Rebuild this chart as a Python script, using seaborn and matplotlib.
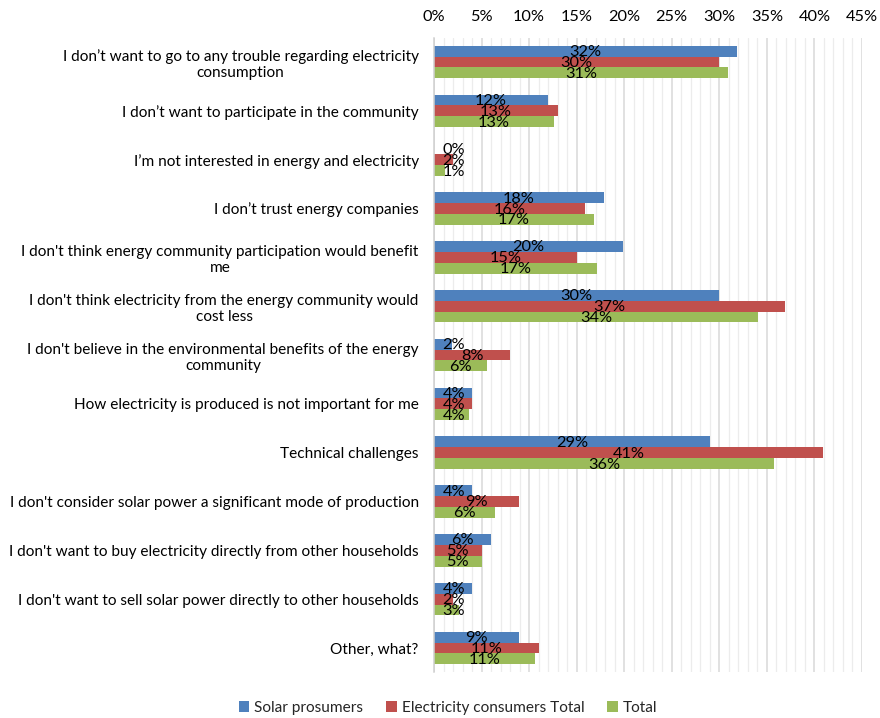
import numpy as np
import pandas as pd
import matplotlib
matplotlib.use("Agg")
import matplotlib.pyplot as plt
from matplotlib.ticker import MultipleLocator, PercentFormatter
from matplotlib.patches import Patch
import seaborn as sns

categories = [
    "I don\u2019t want to go to any trouble regarding electricity\nconsumption",
    "I don\u2019t want to participate in the community",
    "I\u2019m not interested in energy and electricity",
    "I don\u2019t trust energy companies",
    "I don't think energy community participation would benefit\nme",
    "I don't think electricity from the energy community would\ncost less",
    "I don't believe in the environmental benefits of the energy\ncommunity",
    "How electricity is produced is not important for me",
    "Technical challenges",
    "I don't consider solar power a significant mode of production",
    "I don't want to buy electricity directly from other households",
    "I don't want to sell solar power directly to other households",
    "Other, what?",
]
series_names = ["Solar prosumers", "Electricity consumers Total", "Total"]
solar_prosumers = [31.9, 12.0, 0.0, 17.9, 19.9, 30.0, 1.9, 4.0, 29.0, 4.0, 6.0, 4.0, 8.9]
consumers_total = [30.0, 13.0, 2.0, 15.9, 15.0, 36.9, 8.0, 4.0, 40.9, 8.9, 5.0, 2.0, 11.0]
total = [30.9, 12.6, 1.2, 16.8, 17.1, 34.1, 5.6, 3.7, 35.8, 6.4, 5.0, 2.6, 10.6]
colors = ["#4F81BD", "#C0504D", "#9BBB59"]

df = pd.DataFrame({
    "category": categories * 3,
    "series": np.repeat(series_names, len(categories)),
    "value": solar_prosumers + consumers_total + total,
})

sns.set_theme(style="white")
plt.rcParams["font.family"] = ["Lato", "DejaVu Sans"]
FS = 11.1

fig = plt.figure(figsize=(8.8, 7.18), dpi=100)
ax = fig.add_axes([0.4932, 0.0635, 0.9795 - 0.4932, 0.9476 - 0.0635])

sns.barplot(data=df, y="category", x="value", hue="series", order=categories,
            hue_order=series_names, palette=colors, orient="h", width=0.667,
            saturation=1, edgecolor="none", legend=False, ax=ax)

ax.set_xlim(0, 45)
ax.xaxis.set_major_locator(MultipleLocator(5))
ax.xaxis.set_minor_locator(MultipleLocator(1))
ax.xaxis.set_major_formatter(PercentFormatter(decimals=0))
ax.xaxis.tick_top()
ax.grid(axis="x", which="minor", color="#ececec", linewidth=0.9)
ax.grid(axis="x", which="major", color="#d9d9d9", linewidth=1.1)
ax.set_axisbelow(True)
ax.tick_params(axis="x", which="both", length=0, labelsize=11.8, pad=10, colors="black")
ax.tick_params(axis="y", length=0, labelsize=FS, pad=11, colors="black")
for lbl in ax.get_yticklabels():
    lbl.set_multialignment("center")
ax.set_xlabel("")
ax.set_ylabel("")
for side in ["top", "right", "bottom"]:
    ax.spines[side].set_visible(False)
ax.spines["left"].set_color("#d0d0d0")
ax.spines["left"].set_linewidth(1.1)

# value labels centred on each bar, nudged right for very short bars
for container in ax.containers:
    for bar in container:
        w = bar.get_width()
        yc = bar.get_y() + bar.get_height() / 2
        ax.text(max(w / 2, 2.1), yc + 0.02, f"{w:.0f}%", ha="center", va="center",
                fontsize=11.8, color="black")

handles = [Patch(facecolor=c, edgecolor="none") for c in colors]
fig.legend(handles, series_names, loc="center", bbox_to_anchor=(0.509, 0.014),
           ncol=3, frameon=False, fontsize=FS, handlelength=0.7, handleheight=0.7,
           handletextpad=0.3, columnspacing=1.5)

fig.savefig("out.png", dpi=100)
